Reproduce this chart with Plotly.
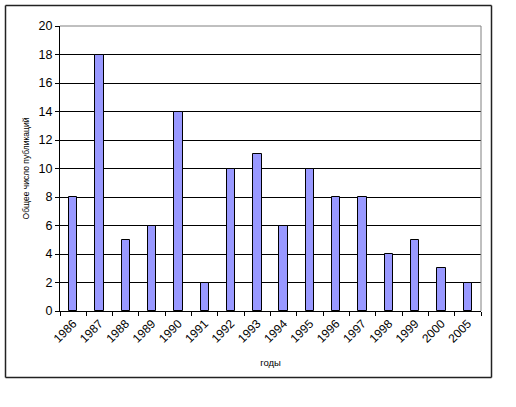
import plotly.graph_objects as go

years = ["1986", "1987", "1988", "1989", "1990", "1991", "1992", "1993",
         "1994", "1995", "1996", "1997", "1998", "1999", "2000", "2005"]
counts = [8, 18, 5, 6, 14, 2, 10, 11, 6, 10, 8, 8, 4, 5, 3, 2]
y_ticks = list(range(0, 21, 2))

W, H = 516, 407
L, T = 60, 26
pw, ph = 421, 285
R, B = W - L - pw, H - T - ph

def px_x(p):
    return (p - L) / pw

def px_y(p):
    return (T + ph - p) / ph

fig = go.Figure(go.Bar(
    x=years, y=counts, width=0.32,
    marker=dict(color="#9999FF", line=dict(color="#000000", width=1)),
))

fig.update_layout(
    width=W, height=H,
    margin=dict(l=L, r=R, t=T, b=B),
    paper_bgcolor="white", plot_bgcolor="white",
    font=dict(family="Liberation Sans, Arial, sans-serif", color="#000000", size=11),
    showlegend=False,
    bargap=0,
)
fig.update_xaxes(
    type="category", tickson="boundaries", ticks="outside", ticklen=4,
    tickcolor="#000", tickangle=-45, tickfont=dict(size=12),
    showline=True, linecolor="#000", linewidth=1, showgrid=False,
    title=dict(text="годы", font=dict(size=9.5), standoff=14),
)
fig.update_yaxes(
    range=[0, 20], tickvals=y_ticks, ticks="outside", ticklen=4, tickcolor="#000",
    showline=True, linecolor="#000", linewidth=1,
    showgrid=True, gridcolor="#000", gridwidth=1, zeroline=False,
    tickfont=dict(size=12.5),
    title=dict(text="Общее число публикаций", font=dict(size=8.5), standoff=7),
)
# grey plot border on top and right
fig.add_shape(type="line", xref="paper", yref="paper", x0=0, x1=1, y0=1, y1=1,
              line=dict(color="#808080", width=1))
fig.add_shape(type="line", xref="paper", yref="paper", x0=1, x1=1, y0=0, y1=1,
              line=dict(color="#808080", width=1))
# outer chart frame
fx0, fx1, fy0, fy1 = px_x(5.5), px_x(491.5), px_y(377.5), px_y(5.5)
for (a, b, c, d) in [(fx0, fx1, fy0, fy0), (fx0, fx1, fy1, fy1),
                     (fx0, fx0, fy0, fy1), (fx1, fx1, fy0, fy1)]:
    fig.add_shape(type="line", xref="paper", yref="paper",
                  x0=a, x1=b, y0=c, y1=d,
                  line=dict(color="#222222", width=1.5), layer="above")

fig.write_html("out.html", config={"displayModeBar": False},
               post_script="document.body.style.margin='0';")
